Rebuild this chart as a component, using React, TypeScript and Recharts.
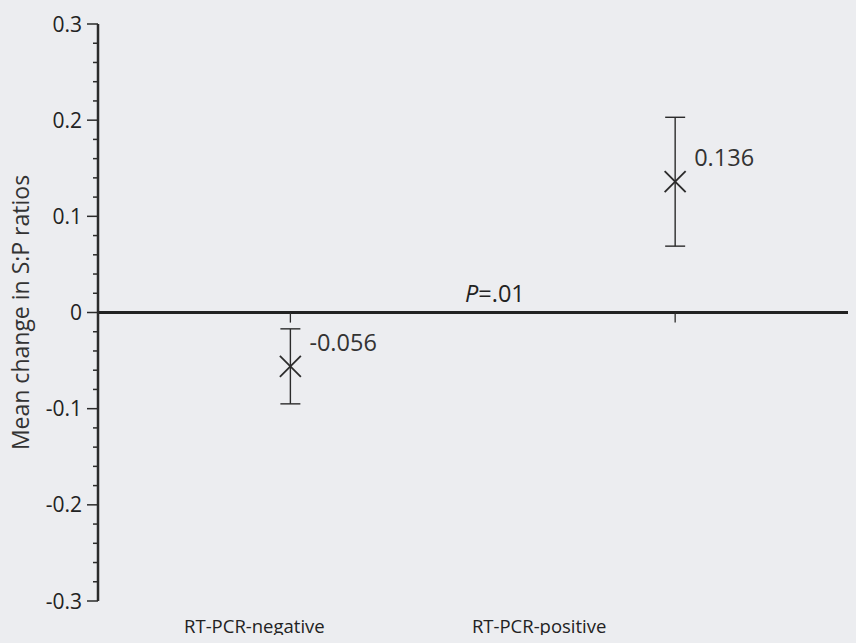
import React from 'react';
import { ComposedChart, Scatter, XAxis, YAxis, ErrorBar, ReferenceLine } from 'recharts';

const groups = ['RT-PCR-negative', 'RT-PCR-positive'];
const groupPos = [1, 2];
const means = [-0.056, 0.136];
const lowers = [-0.095, 0.069];
const uppers = [-0.017, 0.203];
const meanLabels = ['-0.056', '0.136'];
const pValueText = '=.01';

const majorTicks = [-0.3, -0.2, -0.1, 0, 0.1, 0.2, 0.3];
const majorLabels = ['-0.3', '-0.2', '-0.1', '0', '0.1', '0.2', '0.3'];
const allTicks = [
  -0.3, -0.28, -0.26, -0.24, -0.22, -0.2, -0.18, -0.16, -0.14, -0.12, -0.1,
  -0.08, -0.06, -0.04, -0.02, 0, 0.02, 0.04, 0.06, 0.08, 0.1, 0.12, 0.14, 0.16,
  0.18, 0.2, 0.22, 0.24, 0.26, 0.28, 0.3,
];

const data = groups.map((g, i) => ({
  name: g,
  x: groupPos[i],
  y: means[i],
  err: [means[i] - lowers[i], uppers[i] - means[i]],
  label: meanLabels[i],
}));

const FONT = '"Open Sans", sans-serif';
const INK = '#2b2b2b';
const LABEL_OFFSETS = [-36, -136];

const YTick = (props: any) => {
  const { x, y, payload } = props;
  const v = payload.value;
  const idx = majorTicks.findIndex((m) => Math.abs(m - v) < 1e-9);
  const major = idx >= 0;
  return (
    <g>
      <line x1={x - (major ? 11 : 5)} x2={x} y1={y} y2={y} stroke={INK} strokeWidth={1.5} />
      {major && (
        <text x={x - 16} y={y} dy="0.36em" textAnchor="end" fontFamily={FONT} fontSize={21} fill="#222">
          {majorLabels[idx]}
        </text>
      )}
    </g>
  );
};

const XTick = (props: any) => {
  const { x, y, index } = props;
  return (
    <text x={x + LABEL_OFFSETS[index]} y={y + 32} textAnchor="middle" fontFamily={FONT} fontSize={18.5} fill="#222">
      {groups[index]}
    </text>
  );
};

const XMark = (props: any) => {
  const { cx, cy, payload } = props;
  const h = 10.5;
  return (
    <g>
      <line x1={cx - h} y1={cy - h} x2={cx + h} y2={cy + h} stroke={INK} strokeWidth={1.8} />
      <line x1={cx - h} y1={cy + h} x2={cx + h} y2={cy - h} stroke={INK} strokeWidth={1.8} />
      <text x={cx + 19} y={cy - 24} dy="0.36em" fontFamily={FONT} fontSize={23.5} fill="#333">
        {payload.label}
      </text>
    </g>
  );
};

const YLabel = (props: any) => {
  const { viewBox } = props;
  const cx = viewBox.x + 21;
  const cy = viewBox.y + viewBox.height / 2;
  return (
    <text
      x={cx}
      y={cy}
      dy="0.34em"
      textAnchor="middle"
      transform={`rotate(-90 ${cx} ${cy})`}
      fontFamily={FONT}
      fontSize={23}
      fill="#333"
    >
      Mean change in S:P ratios
    </text>
  );
};

const PLabel = (props: any) => {
  const { viewBox } = props;
  return (
    <text x={viewBox.x + 367} y={viewBox.y - 11} fontFamily={FONT} fontSize={23.5} fill="#222">
      <tspan fontStyle="italic">P</tspan>
      {pValueText}
    </text>
  );
};

export default function App() {
  return (
    <div style={{ background: '#ecedf0', margin: -8, width: 856, height: 643 }}>
      <style>{`body{background:#ecedf0;}`}</style>
      <ComposedChart width={856} height={643} data={data} margin={{ top: 24, right: 0, bottom: 0, left: 0 }}>
        <XAxis
          type="number"
          dataKey="x"
          domain={[0.5, 2.47]}
          ticks={groupPos}
          axisLine={false}
          tickLine={false}
          tickSize={0}
          tickMargin={0}
          height={42}
          tick={<XTick />}
          interval={0}
          allowDataOverflow
        />
        <YAxis
          type="number"
          domain={[-0.3, 0.3]}
          ticks={allTicks}
          interval={0}
          width={98}
          axisLine={{ stroke: INK, strokeWidth: 2.5 }}
          tickLine={false}
          tickSize={0}
          tickMargin={0}
          tick={<YTick />}
          label={<YLabel />}
          allowDataOverflow
        />
        <ReferenceLine y={0} stroke="#222" strokeWidth={3} label={<PLabel />} />
        {groupPos.map((p) => (
          <ReferenceLine
            key={p}
            segment={[
              { x: p, y: 0 },
              { x: p, y: -0.0105 },
            ]}
            stroke={INK}
            strokeWidth={1.3}
          />
        ))}
        <Scatter dataKey="y" shape={<XMark />} isAnimationActive={false}>
          <ErrorBar dataKey="err" direction="y" width={10} stroke={INK} strokeWidth={1.4} />
        </Scatter>
      </ComposedChart>
    </div>
  );
}
